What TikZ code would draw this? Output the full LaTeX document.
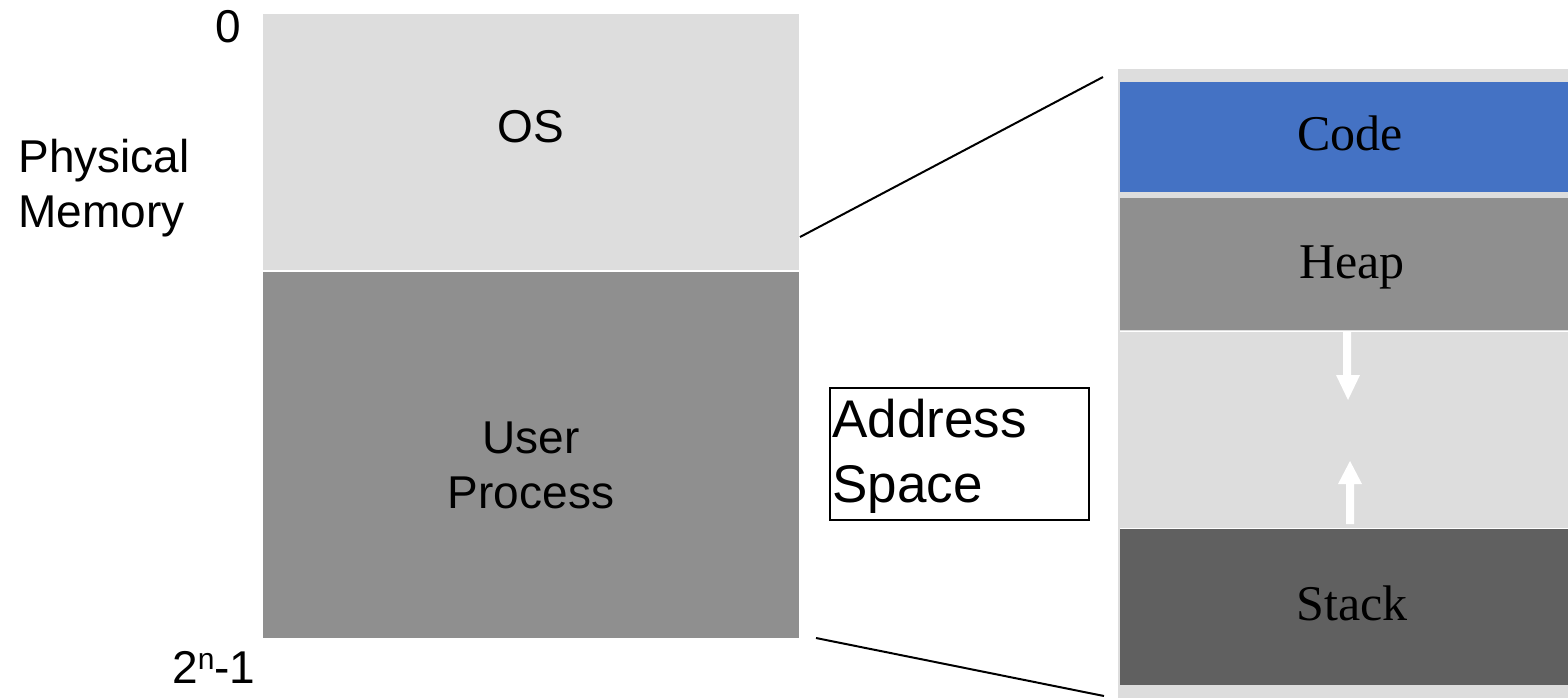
\documentclass[tikz,border=0pt]{standalone}
\usepackage{fontspec}
\setmainfont{Liberation Serif}
\setsansfont{Liberation Sans}
\definecolor{memlight}{HTML}{DDDDDD}
\definecolor{memmid}{HTML}{8F8F8F}
\definecolor{memdark}{HTML}{606060}
\definecolor{codeblue}{HTML}{4472C4}
\tikzset{
  block/.style={rectangle, inner sep=0pt, anchor=north west, draw=none},
  sanslabel/.style={font=\sffamily\fontsize{23}{27.5}\selectfont, inner sep=0pt},
  captionlabel/.style={font=\sffamily\fontsize{26.5}{32.5}\selectfont, inner sep=0pt},
  seriflabel/.style={font=\rmfamily\fontsize{25}{30}\selectfont, inner sep=0pt},
  link/.style={line width=1pt, draw=black},
  growth/.style={fill=white, draw=none}
}
\begin{document}
\begin{tikzpicture}[x=0.5pt, y=-0.5pt]
  \useasboundingbox (0,0) rectangle (1568,698);

  % physical memory column
  \node[block, fill=memlight, minimum width=268pt, minimum height=128pt] (os) at (263,14) {};
  \node[block, fill=memmid, minimum width=268pt, minimum height=183pt] (user) at (263,272) {};
  \node[sanslabel, anchor=base] (oslabel) at (531,142) {OS};
  \node[sanslabel, anchor=base, align=center] (userlabel) at (531,508) {User\\Process};

  \node[sanslabel, anchor=center] (zero) at (228,27) {0};
  \node[sanslabel, anchor=base west] (top) at (172,683) {2\raisebox{0.3em}{\fontsize{15}{15}\selectfont n}-1};
  \node[sanslabel, anchor=base west, align=left] (phys) at (18,227) {Physical\\Memory};

  % address space column
  \node[block, fill=memlight, minimum width=241pt, minimum height=314.5pt] (space) at (1118,69) {};
  \node[block, fill=codeblue, minimum width=240pt, minimum height=55pt] (code) at (1120,82) {};
  \node[block, fill=memmid, minimum width=240pt, minimum height=66pt] (heap) at (1120,198) {};
  \node[block, fill=memlight, minimum width=240pt, minimum height=97.5pt] (gap) at (1120,332) {};
  \node[block, fill=memdark, minimum width=240pt, minimum height=78pt] (stack) at (1120,529) {};
  \fill[white] (heap.south west) rectangle (gap.north east);
  \fill[white] (gap.south west) rectangle (stack.north east);

  \node[seriflabel, anchor=base] (codelabel) at (1350,150) {Code};
  \node[seriflabel, anchor=base] (heaplabel) at (1352,278) {Heap};
  \node[seriflabel, anchor=base] (stacklabel) at (1352,620) {Stack};

  % growth directions of heap and stack
  \fill[growth] (1343,332) -- (1351,332) -- (1351,375) -- (1360,375) -- (1348,400)
    -- (1336,375) -- (1343,375) -- cycle;
  \fill[growth] (1346,524) -- (1354,524) -- (1354,484) -- (1362,484) -- (1350,461)
    -- (1338,484) -- (1346,484) -- cycle;

  % caption box
  \node[block, draw=black, line width=0.75pt, minimum width=129.5pt, minimum height=66pt] (asbox) at (829,387) {};
  \node[captionlabel, anchor=base west, align=left] (aslabel) at (832,502) {Address\\Space};

  % zoom lines from the user process to its address space
  \coordinate (zoomtopA) at (800,237);
  \coordinate (zoomtopB) at (1103,77);
  \coordinate (zoombotA) at (816,638);
  \coordinate (zoombotB) at (1104,696);
  \draw[link] (zoomtopA) -- (zoomtopB);
  \draw[link] (zoombotA) -- (zoombotB);
\end{tikzpicture}
\end{document}
